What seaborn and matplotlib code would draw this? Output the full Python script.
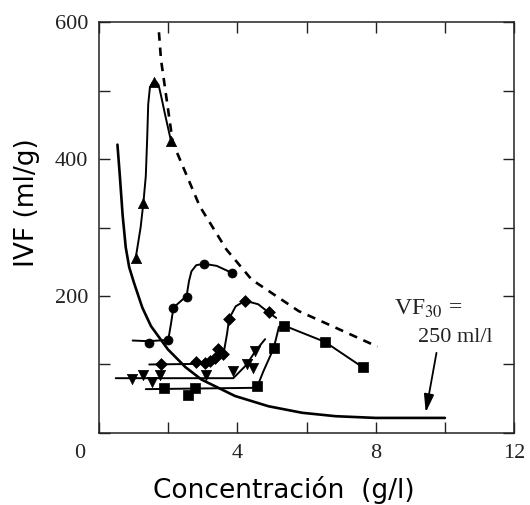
import matplotlib
matplotlib.use("Agg")
import matplotlib.pyplot as plt
import seaborn as sns
from matplotlib.ticker import FixedLocator

# ---- data ----
# theoretical curve VF30 = 250 ml/l (solid)
vf_x = [0.53, 0.60, 0.68, 0.77, 0.87, 1.01, 1.25, 1.50, 1.99, 2.50, 2.96, 3.93, 4.90, 5.87, 6.84, 8.00, 10.0]
vf_y = [421, 375, 318, 271, 242, 219, 183, 156, 122, 96, 78, 54, 39, 29.5, 24.5, 22, 22]

# limit curve (dashed)
lim_x = [1.73, 1.79, 2.13, 2.91, 3.68, 4.41, 5.77, 6.74, 8.05]
lim_y = [585, 545, 424, 331, 268, 224, 178, 156, 126]

# series: up triangles
tri_x = [1.06, 1.28, 1.58, 2.08]
tri_y = [256, 336, 512, 426]
tri_cx = [1.06, 1.20, 1.28, 1.35, 1.39, 1.42, 1.47, 1.55, 1.65, 1.72, 1.78, 1.92, 2.08]
tri_cy = [256, 300, 336, 375, 430, 480, 505, 512, 513, 508, 495, 462, 426]

# series: circles
cir_x = [1.43, 2.00, 2.15, 2.53, 3.03, 3.83]
cir_y = [132, 136, 183, 199, 247, 234]
cir_cx = [0.97, 1.43, 2.00, 2.08, 2.15, 2.35, 2.53, 2.60, 2.67, 2.81, 3.03, 3.40, 3.83]
cir_cy = [135, 134, 136, 160, 183, 192, 200, 222, 236, 245, 247, 244, 234]

# series: diamonds
dia_x = [1.79, 2.81, 3.05, 3.20, 3.34, 3.44, 3.59, 3.76, 4.22, 4.90]
dia_y = [100, 103, 102, 105, 110, 122, 115, 167, 193, 176]
dia_cx = [1.45, 3.05, 3.30, 3.50, 3.62, 3.70, 3.76, 3.95, 4.22, 4.60, 4.90, 5.12]
dia_cy = [100, 101, 106, 113, 122, 145, 167, 185, 193, 188, 176, 168]

# series: down triangles
inv_x = [0.94, 1.28, 1.53, 1.77, 3.08, 3.88, 4.27, 4.46, 4.51]
inv_y = [79, 84, 74, 84, 84, 90, 100, 95, 119]
inv_cx = [0.48, 3.88, 4.27, 4.51, 4.80]
inv_cy = [80, 80, 100, 119, 137]

# series: squares
sq_x = [1.87, 2.57, 2.76, 4.56, 5.05, 5.34, 6.53, 7.62]
sq_y = [66, 55, 66, 68, 124, 156, 133, 96]
sq_cx = [1.35, 4.56, 4.75, 5.05, 5.20, 5.34, 6.53, 7.62]
sq_cy = [64, 66, 90, 124, 155, 157, 133, 96]

x_major = [0, 4, 8, 12]
x_major_labels = ["", "4", "8", "12"]
x_minor = [2, 6, 10]
y_major = [0, 200, 400, 600]
y_major_labels = ["", "200", "400", "600"]
y_minor = [100, 300, 500]

# ---- drawing ----
sns.set_theme(style="ticks")
plt.rcParams["font.family"] = ["DejaVu Sans"]
plt.rcParams["mathtext.fontset"] = "stix"

fig = plt.figure(figsize=(5.3, 5.05), dpi=100)
ax = fig.add_axes([0.187, 0.1426, 0.783, 0.8138])

k = "black"
sns.lineplot(x=vf_x, y=vf_y, sort=False, estimator=None, color=k, lw=1.9, ax=ax)
sns.lineplot(x=lim_x, y=lim_y, sort=False, estimator=None, color=k, lw=1.9,
             dashes=False, ax=ax).lines[-1].set_dashes((3.2, 2.6))

for cx, cy in [(tri_cx, tri_cy), (cir_cx, cir_cy), (dia_cx, dia_cy), (inv_cx, inv_cy), (sq_cx, sq_cy)]:
    sns.lineplot(x=cx, y=cy, sort=False, estimator=None, color=k, lw=1.4, ax=ax)

for mx, my, m, s in [(tri_x, tri_y, "^", 55), (cir_x, cir_y, "o", 42), (dia_x, dia_y, "D", 36),
                     (inv_x, inv_y, "v", 55), (sq_x, sq_y, "s", 42)]:
    sns.scatterplot(x=mx, y=my, marker=m, s=s, color=k, edgecolor=k, linewidth=0.5, ax=ax, zorder=5)

ax.set_xlim(0, 12)
ax.set_ylim(0, 600)
ax.xaxis.set_major_locator(FixedLocator(x_major))
ax.set_xticklabels(x_major_labels)
ax.xaxis.set_minor_locator(FixedLocator(x_minor))
ax.yaxis.set_major_locator(FixedLocator(y_major))
ax.set_yticklabels(y_major_labels)
ax.yaxis.set_minor_locator(FixedLocator(y_minor))
ax.tick_params(which="both", direction="in", length=8, width=1.0, color="#222222",
               top=True, right=True)
ax.tick_params(which="major", pad=8)
for lab in ax.get_xticklabels() + ax.get_yticklabels():
    lab.set_fontfamily("Liberation Serif")
    lab.set_fontsize(16)
    lab.set_color("#222222")
for sp in ax.spines.values():
    sp.set_visible(True)
    sp.set_linewidth(1.1)
    sp.set_color("#222222")

ax.annotate("0", xy=(0, 0), xytext=(-14, -15), textcoords="offset points",
            ha="center", va="center", fontsize=16, family="Liberation Serif", color="#222222")

ax.set_xlabel("Concentración  (g/l)", fontsize=19, color="black")
ax.set_ylabel("IVF (ml/g)", fontsize=19, color="black")
ax.xaxis.set_label_coords(0.444, -0.105)
ax.yaxis.set_label_coords(-0.142, 0.56)

ax.text(8.53, 172, r"VF$_{30}$ =", fontsize=17, family="Liberation Serif", color="#222222",
        ha="left", va="baseline")
ax.text(9.22, 133, "250 ml/l", fontsize=16, family="Liberation Serif", color="#222222",
        ha="left", va="baseline")
ax.annotate("", xy=(9.43, 26), xytext=(9.77, 121),
            arrowprops=dict(arrowstyle="-|>,head_length=0.9,head_width=0.25", color=k, lw=1.3))

fig.savefig("out.png", dpi=100)
